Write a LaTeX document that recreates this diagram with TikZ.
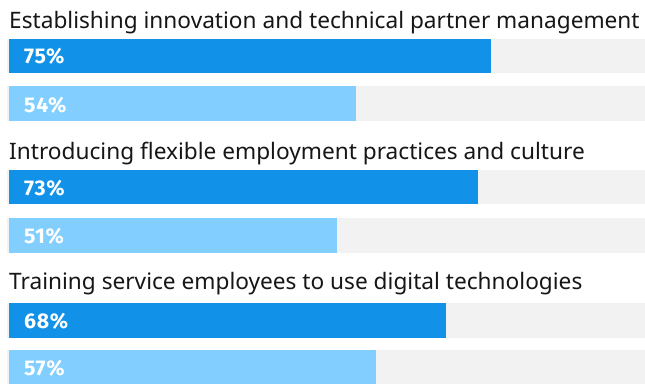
\documentclass[tikz,border=0pt]{standalone}
\usepackage{fontspec}
\setmainfont{Noto Sans}
\newfontfamily\pctfont{Fira Sans}[LetterSpace=3]
\definecolor{barDark}{HTML}{1192E8}
\definecolor{barLight}{HTML}{82CFFF}
\definecolor{trackGray}{HTML}{F2F2F2}
\definecolor{inkText}{HTML}{161616}
\tikzset{
  track/.style={fill=trackGray, draw=none},
  darkbar/.style={fill=barDark, draw=none},
  lightbar/.style={fill=barLight, draw=none},
  title/.style={anchor=base west, inner sep=0pt, text=inkText, font=\fontsize{22.65}{26}\selectfont},
  pct/.style={anchor=base west, inner sep=0pt, text=white, font=\pctfont\fontsize{21.3}{24}\selectfont\bfseries},
}
\begin{document}
\begin{tikzpicture}[x=1pt,y=-1pt]
\useasboundingbox (0,0) rectangle (645,383);
% group 1
\node[title] (t1) at (9,28.7) {Establishing innovation and technical partner management};
\fill[track] (7,39) rectangle (645,73);
\fill[darkbar] (9,39) rectangle ({9+6.43*75},73);
\node[pct] (p1) at (24,63.5) {75\%};
\fill[track] (7,86) rectangle (645,121);
\fill[lightbar] (9,86) rectangle ({9+6.43*54},121);
\node[pct] (p2) at (24,112) {54\%};
% group 2
\node[title] (t2) at (9,159.3) {Introducing flexible employment practices and culture};
\fill[track] (7,170) rectangle (645,204);
\fill[darkbar] (9,170) rectangle ({9+6.43*73},204);
\node[pct] (p3) at (24,195) {73\%};
\fill[track] (7,218) rectangle (645,253);
\fill[lightbar] (9,218) rectangle ({9+6.43*51},253);
\node[pct] (p4) at (24,243.5) {51\%};
% group 3
\node[title] (t3) at (9,289.3) {Training service employees to use digital technologies};
\fill[track] (7,303) rectangle (645,338);
\fill[darkbar] (9,303) rectangle ({9+6.43*68},338);
\node[pct] (p5) at (24,328.5) {68\%};
\fill[track] (7,350) rectangle (645,384);
\fill[lightbar] (9,350) rectangle ({9+6.43*57},384);
\node[pct] (p6) at (24,375.5) {57\%};
\end{tikzpicture}
\end{document}
